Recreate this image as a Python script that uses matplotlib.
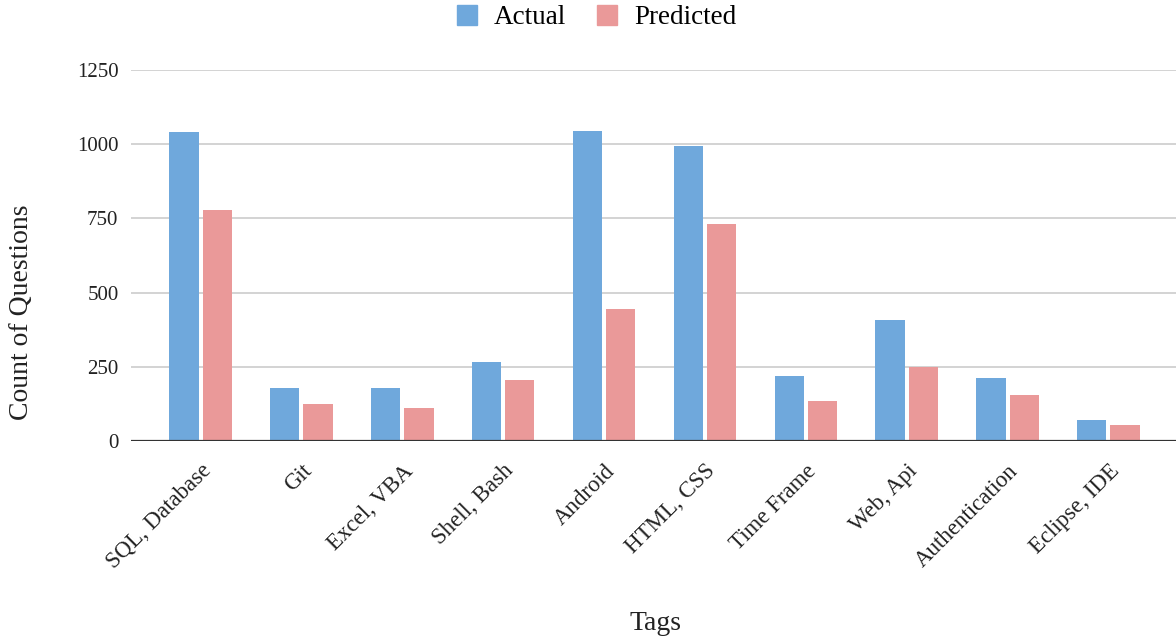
import matplotlib
matplotlib.use("Agg")
import matplotlib.pyplot as plt
import numpy as np
from matplotlib.lines import Line2D

categories = ["SQL, Database", "Git", "Excel, VBA", "Shell, Bash", "Android",
              "HTML, CSS", "Time Frame", "Web, Api", "Authentication", "Eclipse, IDE"]
actual = [1040, 177, 177, 265, 1046, 993, 219, 408, 212, 71]
predicted = [779, 125, 112, 207, 444, 732, 136, 249, 154, 53]
yticks = [0, 250, 500, 750, 1000, 1250]

plt.rcParams['font.family'] = ['Liberation Serif', 'DejaVu Serif']

blue = "#6fa8dc"
pink = "#ea9999"
txt = "#222222"

fig = plt.figure(figsize=(11.76, 6.38), dpi=100)
ax = fig.add_axes([131/1176, 1-441/638, 1-131/1176, (441-70)/638])

x = np.arange(len(categories))
w = 0.29
off = 0.165
ax.bar(x - off, actual, width=w, color=blue, zorder=3)
ax.bar(x + off, predicted, width=w, color=pink, zorder=3)

ax.set_xlim(-0.69, 9.67)
ax.set_ylim(0, 1250)
ax.set_yticks(yticks)
ax.set_yticklabels([str(v) for v in yticks], fontsize=15, color=txt)
ax.yaxis.grid(True, color="#cccccc", linewidth=1.2, zorder=0)
ax.axhline(0, color="#333333", linewidth=1.6, zorder=4)
for s in ax.spines.values():
    s.set_visible(False)
ax.tick_params(axis='both', length=0)
ax.tick_params(axis='y', pad=9)

ax.set_xticks(x)
ax.set_xticklabels(categories, rotation=45, ha='right', rotation_mode='anchor',
                   fontsize=16.5, color=txt)
ax.tick_params(axis='x', pad=14)

fig.text(22/1176, 1-312/638, "Count of Questions", rotation=90, ha='center', va='center',
         fontsize=20, color=txt)
fig.text(656/1176, 1-623/638, "Tags", ha='center', va='center', fontsize=20, color=txt)

handles = [Line2D([], [], marker='s', linestyle='none', markersize=15, color=blue),
           Line2D([], [], marker='s', linestyle='none', markersize=15, color=pink)]
fig.legend(handles, ["Actual", "Predicted"], loc='center', bbox_to_anchor=(595/1176, 1-18/638),
           ncol=2, frameon=False, fontsize=19.5, handletextpad=0.5, columnspacing=1.0,
           handlelength=1.0)

fig.savefig("out.png", dpi=100)
